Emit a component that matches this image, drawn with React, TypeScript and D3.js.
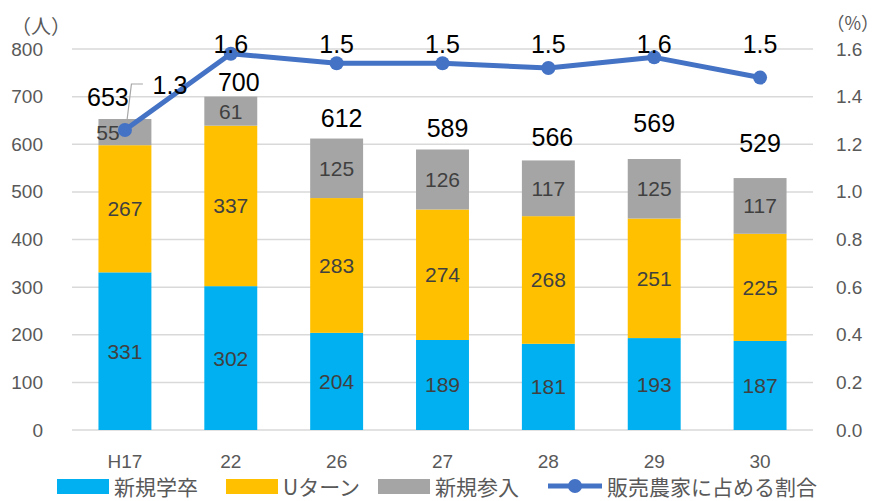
import React from 'react';
import * as d3 from 'd3';

// 年次
const years = ['H17', '22', '26', '27', '28', '29', '30'];
// 新規就農者数（人）
const shinkiGakusotsu = [331, 302, 204, 189, 181, 193, 187];
const uTurn = [267, 337, 283, 274, 268, 251, 225];
const shinkiSannyu = [55, 61, 125, 126, 117, 125, 117];
// 販売農家に占める割合（%）
const ratio = [1.26, 1.58, 1.54, 1.54, 1.52, 1.565, 1.48];

const leftTicks = [0, 100, 200, 300, 400, 500, 600, 700, 800];
const rightTicks = [0, 0.2, 0.4, 0.6, 0.8, 1.0, 1.2, 1.4, 1.6];

const seriesNames = ['新規学卒', 'Uターン', '新規参入'];
const seriesColors = ['#00B0F0', '#FFC000', '#A5A5A5'];
const lineName = '販売農家に占める割合';
const lineColor = '#4472C4';

// manual label nudges (dx, dy) like the hand-moved labels in the original
const totalShift: [number, number][] = [[-17, -22], [8, -15], [5, -21], [5, -21], [4, -23], [0, -36], [0, -35]];

const W = 883;
const H = 501;
const NUM = '"Liberation Sans", Arial, sans-serif';
const JP = '"Noto Sans CJK JP", "Noto Sans", sans-serif';

export default function App() {
  const x = d3.scaleBand<string>().domain(years).range([72, 813]).paddingInner(0.5).paddingOuter(0.25);
  const y = d3.scaleLinear().domain([0, 800]).range([430, 49]);
  const yR = d3.scaleLinear().domain([0, 1.6]).range([430, 49]);

  const rows = years.map((yr, i) => ({
    year: yr,
    [seriesNames[0]]: shinkiGakusotsu[i],
    [seriesNames[1]]: uTurn[i],
    [seriesNames[2]]: shinkiSannyu[i],
  }));
  const stacked = d3.stack<any>().keys(seriesNames)(rows);

  const cx = (yr: string) => (x(yr) as number) + x.bandwidth() / 2;
  const line = d3.line<number>().x((_, i) => cx(years[i])).y(d => yR(d));

  const totals = years.map((_, i) => shinkiGakusotsu[i] + uTurn[i] + shinkiSannyu[i]);
  const lineLabelY = yR(1.6) - 5;

  const firstX = cx(years[0]);
  const firstTop = y(totals[0]);
  const legY = 486;

  return (
    <svg width={W} height={H} style={{ position: 'absolute', left: 0, top: 0, background: '#fff' }}>
      {/* gridlines */}
      {leftTicks.map(t => (
        <line key={t} x1={72} x2={813} y1={y(t)} y2={y(t)} stroke="#D9D9D9" strokeWidth={1.5} />
      ))}

      {/* stacked bars */}
      {stacked.map((layer, si) =>
        layer.map((d, i) => (
          <rect key={`${si}-${i}`} x={x(years[i])} y={y(d[1])} width={x.bandwidth()}
            height={y(d[0]) - y(d[1])} fill={seriesColors[si]} />
        ))
      )}

      {/* segment labels */}
      {stacked.map((layer, si) =>
        layer.map((d, i) => (
          <text key={`l${si}-${i}`} x={cx(years[i]) + (i === 0 && si === 2 ? -17 : 0)} y={(y(d[0]) + y(d[1])) / 2}
            textAnchor="middle" dominantBaseline="central" fontFamily={NUM} fontSize={21} fill="#404040">
            {d[1] - d[0]}
          </text>
        ))
      )}

      {/* leader line for first total */}
      <polyline points={`${firstX + 1.5},${firstTop + 6} ${firstX + 6.5},84 ${firstX + 18},84`}
        fill="none" stroke="#A6A6A6" strokeWidth={1.2} />

      {/* totals */}
      {totals.map((t, i) => (
        <text key={`t${i}`} x={cx(years[i]) + totalShift[i][0]} y={y(t) + totalShift[i][1]}
          textAnchor="middle" dominantBaseline="central" fontFamily={NUM} fontSize={25} fill="#000">
          {t}
        </text>
      ))}

      {/* ratio line */}
      <path d={line(ratio) || ''} fill="none" stroke={lineColor} strokeWidth={5} strokeLinejoin="round" />
      {ratio.map((r, i) => (
        <circle key={`c${i}`} cx={cx(years[i])} cy={yR(r)} r={7} fill={lineColor} />
      ))}
      {ratio.map((r, i) => (
        <text key={`r${i}`} x={cx(years[i]) + (i === 0 ? 45 : 0)} y={i === 0 ? yR(r) - 44.5 : lineLabelY}
          textAnchor="middle" dominantBaseline="central" fontFamily={NUM} fontSize={25} fill="#000">
          {r.toFixed(1)}
        </text>
      ))}

      {/* left axis */}
      {leftTicks.map(t => (
        <text key={`lt${t}`} x={43} y={y(t)} textAnchor="end" dominantBaseline="central"
          fontFamily={NUM} fontSize={19} fill="#595959">{t}</text>
      ))}
      <text x={41} y={25} textAnchor="middle" dominantBaseline="central" fontFamily={JP} fontSize={20} fill="#595959">（人）</text>

      {/* right axis */}
      {rightTicks.map(t => (
        <text key={`rt${t}`} x={836} y={yR(t)} textAnchor="start" dominantBaseline="central"
          fontFamily={NUM} fontSize={19} fill="#595959">{t.toFixed(1)}</text>
      ))}
      <text x={879} y={22} textAnchor="end" dominantBaseline="central" fontFamily={JP} fontSize={18} fill="#595959">（%）</text>

      {/* category labels */}
      {years.map(yr => (
        <text key={`x${yr}`} x={cx(yr)} y={461} textAnchor="middle" dominantBaseline="central"
          fontFamily={NUM} fontSize={19} fill="#595959">{yr}</text>
      ))}

      {/* legend */}
      {seriesNames.map((n, i) => {
        const lx = [57, 226, 378][i];
        return (
          <g key={`lg${i}`}>
            <rect x={lx} y={legY - 7} width={52} height={15} fill={seriesColors[i]} />
            <text x={lx + 57} y={legY} dominantBaseline="central" fontFamily={JP} fontSize={21} fill="#595959">{n}</text>
          </g>
        );
      })}
      <line x1={548} x2={602} y1={legY} y2={legY} stroke={lineColor} strokeWidth={5} />
      <circle cx={575} cy={legY} r={7} fill={lineColor} />
      <text x={607} y={legY} dominantBaseline="central" fontFamily={JP} fontSize={21} fill="#595959">{lineName}</text>
    </svg>
  );
}
